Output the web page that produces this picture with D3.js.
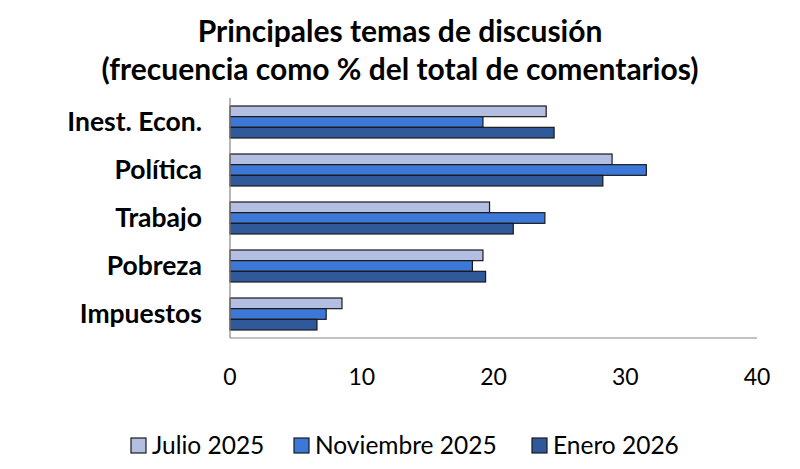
<!DOCTYPE html>
<html lang="es">
<head>
<meta charset="UTF-8">
<title>Principales temas de discusión</title>
<script src="https://cdn.jsdelivr.net/npm/d3@7"></script>
<style>
  body { margin: 0; background: #fff; }
  text { font-family: Lato, "Open Sans", sans-serif; fill: #000; }
</style>
</head>
<body>
<script>
  // datos
  const categories = ["Inest. Econ.", "Política", "Trabajo", "Pobreza", "Impuestos"];
  const seriesNames = ["Julio 2025", "Noviembre 2025", "Enero 2026"];
  const julio = [24.0, 29.0, 19.7, 19.2, 8.5];
  const noviembre = [19.2, 31.6, 23.9, 18.4, 7.3];
  const enero = [24.6, 28.3, 21.5, 19.4, 6.6];
  const xTicks = [0, 10, 20, 30, 40];
  const titleLines = ["Principales temas de discusión", "(frecuencia como % del total de comentarios)"];

  const colors = ["#b3bee0", "#3b78d8", "#30599b"];
  const width = 800, height = 469;
  const margin = { top: 98, left: 230, right: 43, bottom: 131 };

  const svg = d3.select("body").append("svg")
    .attr("width", width)
    .attr("height", height);

  const x = d3.scaleLinear().domain([0, 40]).range([margin.left, width - margin.right]);
  const y = d3.scaleBand().domain(categories)
    .range([margin.top, height - margin.bottom])
    .paddingInner(1 / 3)
    .paddingOuter(1 / 6);
  const ySub = d3.scaleBand().domain(seriesNames).range([0, y.bandwidth()]);

  // titulo
  svg.append("g").selectAll("text")
    .data(titleLines)
    .enter().append("text")
    .attr("x", 400)
    .attr("y", (d, i) => 42 + i * 38)
    .attr("text-anchor", "middle")
    .attr("font-size", 30)
    .attr("font-weight", "bold")
    .text(d => d);

  // barras
  const series = [julio, noviembre, enero];
  const groups = svg.append("g").selectAll("g")
    .data(categories)
    .enter().append("g")
    .attr("transform", d => "translate(0," + y(d) + ")");

  groups.selectAll("rect")
    .data((c, i) => series.map((s, j) => ({ name: seriesNames[j], value: s[i], k: j })))
    .enter().append("rect")
    .attr("x", x(0))
    .attr("y", d => ySub(d.name))
    .attr("width", d => x(d.value) - x(0))
    .attr("height", ySub.bandwidth())
    .attr("fill", d => colors[d.k])
    .attr("stroke", "#1a1a1a")
    .attr("stroke-width", 1.2);

  // ejes
  svg.append("line")
    .attr("x1", x(0)).attr("x2", x(0))
    .attr("y1", y.range()[0]).attr("y2", y.range()[1])
    .attr("stroke", "#868686").attr("stroke-width", 1.2);
  svg.append("line")
    .attr("x1", x(0)).attr("x2", x(40))
    .attr("y1", y.range()[1]).attr("y2", y.range()[1])
    .attr("stroke", "#868686").attr("stroke-width", 1.2);

  svg.append("g").selectAll("text")
    .data(categories)
    .enter().append("text")
    .attr("x", 202)
    .attr("y", d => y(d) + y.bandwidth() / 2 + 9)
    .attr("text-anchor", "end")
    .attr("font-size", 26.5)
    .attr("font-weight", "bold")
    .text(d => d);

  svg.append("g").selectAll("text")
    .data(xTicks)
    .enter().append("text")
    .attr("x", d => x(d))
    .attr("y", 385)
    .attr("text-anchor", "middle")
    .attr("font-size", 23)
    .text(d => d);

  // leyenda
  const legendX = [131, 294, 532];
  const legend = svg.append("g").selectAll("g")
    .data(seriesNames)
    .enter().append("g")
    .attr("transform", (d, i) => "translate(" + legendX[i] + ",438)");
  legend.append("rect")
    .attr("width", 15).attr("height", 15)
    .attr("fill", (d, i) => colors[i])
    .attr("stroke", "#1a1a1a")
    .attr("stroke-width", 1.2);
  legend.append("text")
    .attr("x", 21)
    .attr("y", 16)
    .attr("font-size", 24.5)
    .text(d => d);
</script>
</body>
</html>
